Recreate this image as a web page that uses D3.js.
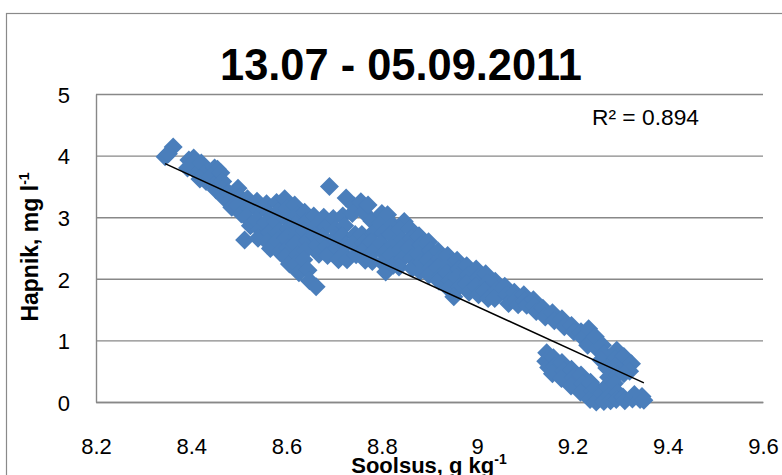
<!DOCTYPE html>
<html>
<head>
<meta charset="utf-8">
<script src="https://cdn.jsdelivr.net/npm/d3@7"></script>
<style>
  html, body { margin: 0; padding: 0; background: #fff; overflow: hidden; }
  svg { display: block; }
</style>
</head>
<body>
<svg id="chart" width="782" height="475"></svg>
<script>
// Axis ticks
const xTicks = [8.2, 8.4, 8.6, 8.8, 9, 9.2, 9.4, 9.6];
const yTicks = [0, 1, 2, 3, 4, 5];

// Salinity (g/kg) vs dissolved oxygen (mg/l), 13.07 - 05.09.2011
const observations = [
  [8.345, 3.98], [8.362, 4.14], [8.352, 4.03],
  [8.395, 3.93], [8.405, 3.96], [8.392, 3.80], [8.401, 3.86], [8.412, 3.72],
  [8.421, 3.88], [8.426, 3.70], [8.418, 3.62], [8.431, 3.58],
  [8.449, 3.80], [8.455, 3.78], [8.441, 3.66], [8.447, 3.52], [8.452, 3.44],
  [8.462, 3.72], [8.466, 3.58], [8.463, 3.45], [8.468, 3.32],
  [8.478, 3.40], [8.482, 3.27], [8.485, 3.16],
  [8.498, 3.47], [8.502, 3.33], [8.497, 3.19], [8.505, 3.05],
  [8.518, 3.30], [8.522, 3.15], [8.515, 3.00], [8.524, 2.86], [8.512, 2.63],
  [8.538, 3.26], [8.542, 3.11], [8.536, 2.95], [8.544, 2.80], [8.540, 2.66],
  [8.558, 3.22], [8.562, 3.07], [8.556, 2.91], [8.564, 2.75], [8.559, 2.60], [8.566, 2.49],
  [8.579, 3.24], [8.583, 3.09], [8.577, 2.93], [8.585, 2.77], [8.580, 2.61], [8.586, 2.43],
  [8.596, 3.30], [8.601, 3.14], [8.598, 2.98], [8.604, 2.82], [8.599, 2.66], [8.603, 2.50], [8.597, 2.35], [8.606, 2.24],
  [8.617, 3.20], [8.622, 3.04], [8.619, 2.88], [8.624, 2.72], [8.618, 2.56], [8.623, 2.40], [8.620, 2.24], [8.626, 2.10],
  [8.638, 3.08], [8.642, 2.93], [8.637, 2.78], [8.644, 2.62], [8.640, 2.46], [8.636, 2.31], [8.645, 2.14], [8.648, 1.97],
  [8.657, 3.02], [8.662, 2.86], [8.659, 2.70], [8.664, 2.54], [8.668, 2.40], [8.662, 1.87],
  [8.690, 3.50], [8.678, 3.00], [8.682, 2.84], [8.677, 2.68], [8.684, 2.52], [8.686, 2.38],
  [8.698, 2.98], [8.703, 2.80], [8.699, 2.65], [8.705, 2.50], [8.709, 2.31],
  [8.725, 3.31], [8.718, 3.02], [8.722, 2.86], [8.717, 2.70], [8.724, 2.55], [8.720, 2.40], [8.727, 2.31],
  [8.742, 3.18], [8.738, 3.06], [8.744, 2.72], [8.739, 2.57], [8.746, 2.39],
  [8.756, 3.25], [8.762, 3.08], [8.758, 2.72], [8.763, 2.58], [8.759, 2.44], [8.765, 2.30],
  [8.771, 3.20], [8.779, 2.94], [8.783, 2.76], [8.777, 2.60], [8.782, 2.44], [8.780, 2.28],
  [8.800, 3.06], [8.797, 2.90], [8.803, 2.74], [8.798, 2.58], [8.804, 2.42], [8.801, 2.26], [8.808, 2.11],
  [8.812, 3.04], [8.822, 2.88], [8.818, 2.72], [8.823, 2.55], [8.819, 2.39], [8.824, 2.22],
  [8.847, 2.93], [8.838, 2.80], [8.843, 2.64], [8.839, 2.48], [8.844, 2.33], [8.836, 2.19],
  [8.858, 2.82], [8.862, 2.66], [8.857, 2.50], [8.863, 2.34], [8.864, 2.17],
  [8.878, 2.70], [8.882, 2.55], [8.877, 2.40], [8.883, 2.26], [8.880, 2.12],
  [8.898, 2.60], [8.902, 2.46], [8.897, 2.30], [8.903, 2.18], [8.899, 2.06],
  [8.918, 2.45], [8.922, 2.32], [8.917, 2.18], [8.923, 2.04], [8.920, 1.96],
  [8.938, 2.38], [8.942, 2.24], [8.937, 2.10], [8.943, 1.96], [8.940, 1.84],
  [8.958, 2.30], [8.962, 2.16], [8.957, 2.02], [8.963, 1.88], [8.951, 1.71],
  [8.978, 2.21], [8.982, 2.06], [8.977, 1.92], [8.983, 1.78],
  [8.998, 2.16], [9.002, 2.02], [8.997, 1.88], [9.003, 1.74],
  [9.018, 2.08], [9.022, 1.94], [9.017, 1.80], [9.023, 1.68],
  [9.038, 1.96], [9.042, 1.82], [9.037, 1.68],
  [9.058, 1.88], [9.062, 1.74], [9.066, 1.60],
  [9.078, 1.78], [9.082, 1.66], [9.086, 1.58],
  [9.098, 1.74], [9.101, 1.64], [9.104, 1.57],
  [9.118, 1.66], [9.120, 1.56], [9.124, 1.47],
  [9.138, 1.52], [9.143, 1.38],
  [9.158, 1.45], [9.162, 1.32],
  [9.178, 1.35], [9.183, 1.22],
  [9.198, 1.24], [9.203, 1.14],
  [9.218, 1.14], [9.222, 1.04],
  [9.234, 1.19], [9.238, 0.98], [9.232, 0.92],
  [9.248, 1.06], [9.252, 0.86],
  [9.263, 0.92], [9.267, 0.78], [9.260, 0.68],
  [9.293, 0.84], [9.290, 0.70], [9.308, 0.74], [9.312, 0.60], [9.324, 0.62], [9.320, 0.50],
  [9.146, 0.80], [9.144, 0.66], [9.150, 0.56],
  [9.160, 0.72], [9.163, 0.58], [9.158, 0.46],
  [9.178, 0.64], [9.182, 0.50], [9.177, 0.38],
  [9.198, 0.53], [9.202, 0.40], [9.197, 0.26],
  [9.218, 0.44], [9.222, 0.30], [9.217, 0.16],
  [9.238, 0.32], [9.242, 0.18], [9.237, 0.04],
  [9.248, 0.22], [9.252, 0.08], [9.250, 0.00],
  [9.262, 0.14], [9.266, 0.01],
  [9.272, 0.55], [9.276, 0.40], [9.271, 0.25], [9.278, 0.10], [9.280, 0.02],
  [9.290, 0.58], [9.293, 0.44], [9.288, 0.30], [9.295, 0.15], [9.292, 0.04],
  [9.308, 0.46], [9.306, 0.08], [9.310, 0.02],
  [9.326, 0.05], [9.330, 0.12],
  [9.342, 0.04], [9.346, 0.09], [9.350, 0.03]
];

// Linear trend line: intercept, slope
const trendCoef = [33.41, -3.54];
const rSquared = 0.894;

const W = 782, H = 475;
const plot = { left: 96, right: 763, top: 94, bottom: 402 };
const font = "'Liberation Sans', Arial, sans-serif";
const gridColor = "#888888";
const markerColor = "#4a7ebb";

const svg = d3.select("#chart");

const x = d3.scaleLinear().domain([8.2, 9.6]).range([plot.left, plot.right]);
const y = d3.scaleLinear().domain([0, 5]).range([plot.bottom, plot.top]);

svg.append("rect").attr("width", W).attr("height", H).attr("fill", "#fff");

// Chart frame
svg.append("rect")
  .attr("x", 6.5).attr("y", 13.5)
  .attr("width", W).attr("height", H)
  .attr("fill", "none").attr("stroke", "#8a8a8a").attr("stroke-width", 1.2);

// Y axis with horizontal gridlines
const yAxis = svg.append("g")
  .attr("transform", `translate(${plot.left},0)`)
  .call(d3.axisLeft(y).tickValues(yTicks).tickFormat(d3.format("d"))
    .tickSize(-(plot.right - plot.left)).tickSizeOuter(0).tickPadding(26));
yAxis.selectAll(".tick line").attr("stroke", gridColor).attr("stroke-width", 1.4);
yAxis.select(".domain").attr("stroke", gridColor).attr("stroke-width", 1.4);
yAxis.selectAll(".tick text")
  .attr("font-family", font).attr("font-size", 22).attr("fill", "#000")
  .attr("dy", "0.38em");

// X axis
const xAxis = svg.append("g")
  .attr("transform", `translate(0,${plot.bottom})`)
  .call(d3.axisBottom(x).tickValues(xTicks).tickFormat(d => d3.format("")(d))
    .tickSize(0).tickPadding(36));
xAxis.select(".domain").attr("stroke", gridColor).attr("stroke-width", 1.4);
xAxis.selectAll(".tick text")
  .attr("font-family", font).attr("font-size", 22).attr("fill", "#000");

// Diamond markers
const r = 9.5;
const diamond = `M0,${-r}L${r},0L0,${r}L${-r},0Z`;
svg.append("g")
  .selectAll("path")
  .data(observations)
  .join("path")
  .attr("d", diamond)
  .attr("transform", d => `translate(${x(d[0])},${y(d[1])})`)
  .attr("fill", markerColor);

// Trend line across the observed salinity range
const [xMin, xMax] = d3.extent(observations, d => d[0]);
const trendY = v => trendCoef[0] + trendCoef[1] * v;
svg.append("line")
  .attr("x1", x(xMin)).attr("y1", y(trendY(xMin)))
  .attr("x2", x(xMax)).attr("y2", y(trendY(xMax)))
  .attr("stroke", "#000").attr("stroke-width", 1.5);

// Title
svg.append("text")
  .attr("x", 401).attr("y", 80)
  .attr("text-anchor", "middle")
  .attr("font-family", font).attr("font-weight", "bold").attr("font-size", 44)
  .attr("textLength", 362).attr("lengthAdjust", "spacingAndGlyphs")
  .text("13.07 - 05.09.2011");

// R squared label
svg.append("text")
  .attr("x", 592).attr("y", 125)
  .attr("font-family", font).attr("font-size", 22)
  .attr("textLength", 107).attr("lengthAdjust", "spacingAndGlyphs")
  .text(`R² = ${rSquared}`);

// Y axis title
const yTitle = svg.append("text")
  .attr("transform", `translate(38,247) rotate(-90)`)
  .attr("text-anchor", "middle")
  .attr("font-family", font).attr("font-weight", "bold").attr("font-size", 23);
yTitle.append("tspan").text("Hapnik, mg l");
yTitle.append("tspan").attr("font-size", 14).attr("dy", -9).text("-1");

// X axis title
const xTitle = svg.append("text")
  .attr("x", 429).attr("y", 473)
  .attr("text-anchor", "middle")
  .attr("font-family", font).attr("font-weight", "bold").attr("font-size", 22);
xTitle.append("tspan").text("Soolsus, g kg");
xTitle.append("tspan").attr("font-size", 14).attr("dy", -9).text("-1");
</script>
</body>
</html>
